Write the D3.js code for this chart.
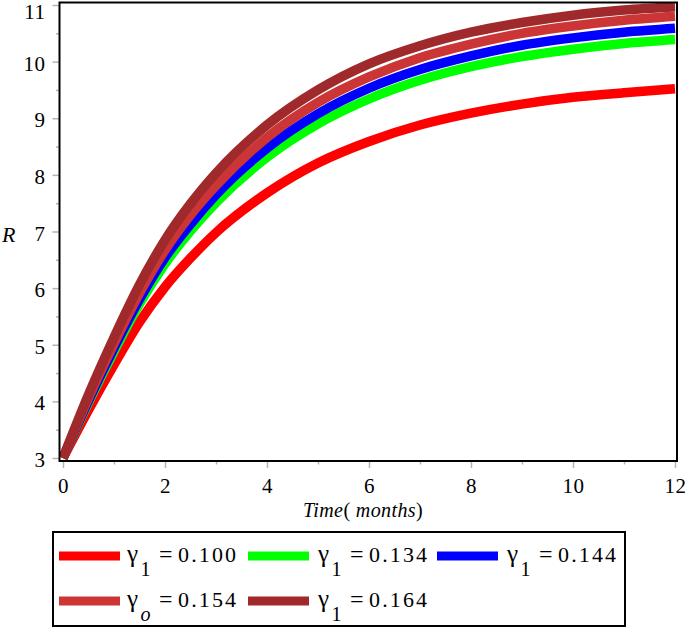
<!DOCTYPE html>
<html>
<head>
<meta charset="utf-8">
<script src="https://cdn.jsdelivr.net/npm/d3@7"></script>
<style>
  html, body { margin: 0; padding: 0; background: #fff; }
  svg { display: block; }
  svg text { font-family: "Liberation Serif", "DejaVu Serif", "Noto Serif", "FreeSerif", "Tinos", "Times New Roman", serif; }
</style>
</head>
<body>
<svg id="chart" width="685" height="628"></svg>
<script>
// ---- data ----
const times = [0, 0.5, 1, 1.5, 2, 2.5, 3, 4, 5, 6, 7, 8, 9, 10, 11, 12];
const r100 = [3.0, 3.85, 4.65, 5.40, 6.02, 6.53, 6.98, 7.68, 8.21, 8.59, 8.88, 9.09, 9.25, 9.37, 9.45, 9.52];
const r134 = [3.0, 3.98, 4.88, 5.72, 6.43, 7.01, 7.51, 8.31, 8.90, 9.34, 9.67, 9.91, 10.09, 10.22, 10.32, 10.39];
const r144 = [3.0, 4.01, 4.94, 5.80, 6.54, 7.13, 7.65, 8.47, 9.08, 9.53, 9.86, 10.10, 10.29, 10.42, 10.52, 10.59];
const r154 = [3.0, 4.06, 5.02, 5.91, 6.67, 7.29, 7.81, 8.66, 9.28, 9.73, 10.07, 10.31, 10.50, 10.63, 10.73, 10.80];
const r164 = [3.0, 4.12, 5.13, 6.06, 6.85, 7.49, 8.03, 8.88, 9.50, 9.96, 10.28, 10.52, 10.69, 10.82, 10.91, 10.97];
const seriesNames = ["0.100", "0.134", "0.144", "0.154", "0.164"];
const seriesSub = ["1", "1", "1", "o", "1"];
const seriesColors = ["#ff0000", "#00ff00", "#0000ff", "#cc3535", "#a0292b"];
const xTickValues = [0, 2, 4, 6, 8, 10, 12];
const yTickValues = [3, 4, 5, 6, 7, 8, 9, 10, 11];

const seriesValues = [r100, r134, r144, r154, r164];
const series = seriesValues.map((vals, i) => ({
  name: seriesNames[i], sub: seriesSub[i], color: seriesColors[i],
  points: times.map((t, j) => ({ t: t, v: vals[j] }))
}));

// ---- layout ----
const svg = d3.select("#chart");
const frame = { left: 59.5, right: 677, top: 2.5, bottom: 461 };
const x = d3.scaleLinear().domain([0, 12]).range([63, 675]);
const y = d3.scaleLinear().domain([3, 11]).range([458, 5]);

svg.append("defs").append("clipPath").attr("id", "plotclip")
  .append("rect")
  .attr("x", frame.left).attr("y", frame.top)
  .attr("width", frame.right - frame.left).attr("height", frame.bottom - frame.top);

// ticks
const tickColor = "#b4b4b4";
const xAxis = d3.axisBottom(x)
  .tickValues(d3.range(0, 13, 1))
  .tickSize(0)
  .tickFormat("");
const gx = svg.append("g").attr("transform", `translate(0,${frame.bottom})`).call(xAxis)
  .attr("font-family", null);
gx.select(".domain").remove();
gx.selectAll(".tick line")
  .attr("y2", d => (d % 2 === 0 ? 7 : 3.5))
  .attr("stroke", tickColor).attr("stroke-width", 1.5);
gx.selectAll(".tick")
  .filter(d => xTickValues.includes(d))
  .append("text")
  .attr("y", 32)
  .attr("text-anchor", "middle")
  .attr("font-size", 21)
  .attr("letter-spacing", 0.5)
  .attr("fill", "#000")
  .text(d => d);

const yAxis = d3.axisLeft(y)
  .tickValues(d3.range(3, 11.01, 0.5))
  .tickSize(0)
  .tickFormat("");
const gy = svg.append("g").attr("transform", `translate(${frame.left},0)`).call(yAxis)
  .attr("font-family", null);
gy.select(".domain").remove();
gy.selectAll(".tick line")
  .attr("x2", d => (Number.isInteger(d) ? -7 : -3.5))
  .attr("stroke", tickColor).attr("stroke-width", 1.5);
gy.selectAll(".tick")
  .filter(d => yTickValues.includes(d))
  .append("text")
  .attr("x", -14)
  .attr("y", d => (d === 11 ? 6 : 1))
  .attr("dy", "0.36em")
  .attr("text-anchor", "end")
  .attr("font-size", 21)
  .attr("letter-spacing", 0.5)
  .attr("fill", "#000")
  .text(d => d);

// lines
const line = d3.line().x(d => x(d.t)).y(d => y(d.v)).curve(d3.curveMonotoneX);
const gl = svg.append("g").attr("clip-path", "url(#plotclip)");
gl.selectAll("path.series").data(series).enter().append("path")
  .attr("class", "series")
  .attr("d", d => line(d.points))
  .attr("fill", "none")
  .attr("stroke", d => d.color)
  .attr("stroke-width", 9.5)
  .attr("stroke-linecap", "butt")
  .attr("stroke-linejoin", "round");

// frame
svg.append("rect")
  .attr("x", frame.left).attr("y", frame.top)
  .attr("width", frame.right - frame.left).attr("height", frame.bottom - frame.top)
  .attr("fill", "none").attr("stroke", "#000").attr("stroke-width", 2);

// axis labels
svg.append("text").attr("x", 2).attr("y", 242)
  .attr("font-size", 22).attr("font-style", "italic").text("R");

const xl = svg.append("text").attr("x", 363).attr("y", 517)
  .attr("text-anchor", "middle").attr("font-size", 20).attr("letter-spacing", 0.4);
xl.append("tspan").attr("font-style", "italic").text("Time");
xl.append("tspan").text("(");
xl.append("tspan").attr("font-style", "italic").text(" months");
xl.append("tspan").text(")");

// legend
svg.append("rect")
  .attr("x", 53).attr("y", 532).attr("width", 572).attr("height", 94)
  .attr("fill", "none").attr("stroke", "#000").attr("stroke-width", 2);

const legendPos = [
  { sx: 59, ty: 556, tx: 127 },
  { sx: 248, ty: 556, tx: 318 },
  { sx: 437, ty: 556, tx: 507 },
  { sx: 59, ty: 601, tx: 127 },
  { sx: 248, ty: 601, tx: 318 }
];
const gLeg = svg.append("g");
series.forEach((s, i) => {
  const p = legendPos[i];
  gLeg.append("line")
    .attr("x1", p.sx).attr("x2", p.sx + 61)
    .attr("y1", p.ty).attr("y2", p.ty)
    .attr("stroke", s.color).attr("stroke-width", 9);
  const base = p.ty + 6;
  gLeg.append("text").attr("x", p.tx).attr("y", base)
    .attr("font-size", 25).text("γ");
  gLeg.append("text").attr("x", p.tx + 13.5).attr("y", base + 14)
    .attr("font-size", 20)
    .attr("font-style", s.sub === "o" ? "italic" : "normal")
    .text(s.sub);
  gLeg.append("text").attr("x", p.tx + 32).attr("y", base)
    .attr("font-size", 24).text("=");
  gLeg.append("text").attr("x", p.tx + 51).attr("y", base)
    .attr("font-size", 22)
    .attr("textLength", 58).attr("lengthAdjust", "spacing")
    .text(s.name);
});
</script>
</body>
</html>
